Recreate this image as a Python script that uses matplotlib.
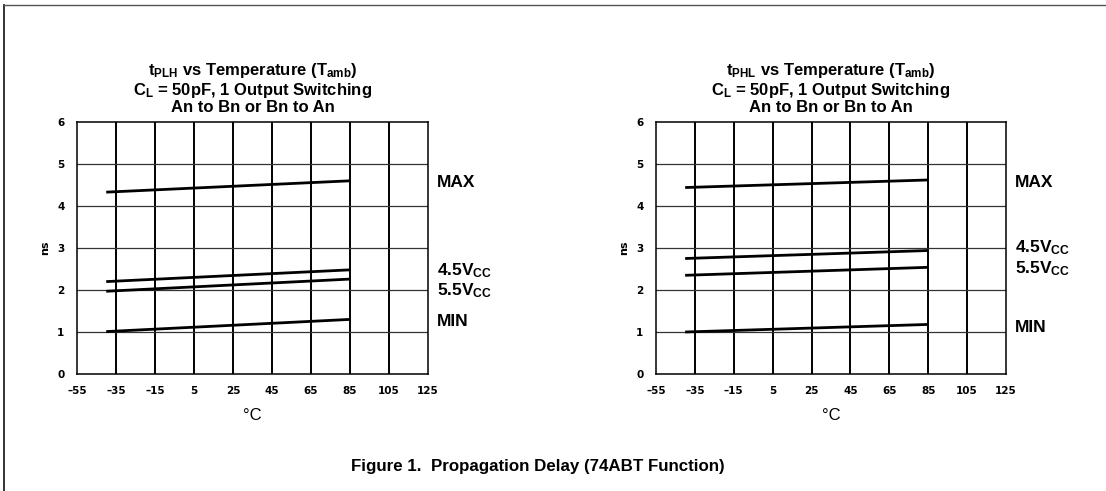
import matplotlib
matplotlib.use("Agg")
import matplotlib.pyplot as plt
from matplotlib.lines import Line2D

plt.rcParams["font.family"] = ["Liberation Sans", "DejaVu Sans"]
plt.rcParams["font.weight"] = "bold"
plt.rcParams["mathtext.fontset"] = "custom"
plt.rcParams["mathtext.rm"] = "Liberation Sans:bold"
plt.rcParams["mathtext.it"] = "Liberation Sans:bold"
plt.rcParams["mathtext.bf"] = "Liberation Sans:bold"

# --- data ---
temp = [-40, 85]
xticks = [-55, -35, -15, 5, 25, 45, 65, 85, 105, 125]
xtick_labels = ["\u201355", "\u201335", "\u201315", "5", "25", "45", "65", "85", "105", "125"]
yticks = [0, 1, 2, 3, 4, 5, 6]

plh_max = [4.33, 4.60]
plh_45v = [2.20, 2.48]
plh_55v = [1.97, 2.26]
plh_min = [1.01, 1.30]

phl_max = [4.44, 4.62]
phl_45v = [2.75, 2.94]
phl_55v = [2.35, 2.54]
phl_min = [1.00, 1.18]

curve_names = ["MAX", r"4.5V$_{CC}$", r"5.5V$_{CC}$", "MIN"]
plh_label_y = [4.55, 2.46, 1.99, 1.26]
phl_label_y = [4.55, 3.00, 2.52, 1.10]

titles = [
    ["t$_{PLH}$ vs Temperature (T$_{amb}$)", "C$_{L}$ = 50pF, 1 Output Switching", "An to Bn or Bn to An"],
    ["t$_{PHL}$ vs Temperature (T$_{amb}$)", "C$_{L}$ = 50pF, 1 Output Switching", "An to Bn or Bn to An"],
]
title_baselines = [1 - 75.5 / 491, 1 - 94.5 / 491, 1 - 112.5 / 491]

fig = plt.figure(figsize=(11.06, 4.91), dpi=100)

# frame around the figure (top + left only, like the scan)
fig.add_artist(Line2D([0.004, 0.004], [0, 0.99], color="#222222", lw=1.3, transform=fig.transFigure))
fig.add_artist(Line2D([0.004, 1.0], [0.99, 0.99], color="#555555", lw=1.0, transform=fig.transFigure))


def draw_panel(rect, title_lines, series, label_y):
    ax = fig.add_axes(rect)
    ax.set_xlim(-55, 125)
    ax.set_ylim(0, 6)
    ax.set_xticks(xticks)
    ax.set_xticklabels(xtick_labels)
    ax.set_yticks(yticks)
    ax.tick_params(length=0, labelsize=7.5, pad=9)
    for lab in ax.get_xticklabels() + ax.get_yticklabels():
        lab.set_fontweight("bold")
        lab.set_family("DejaVu Sans")
    for x in xticks[1:-1]:
        ax.axvline(x, color="black", lw=1.4, zorder=1)
    for y in yticks[1:-1]:
        ax.axhline(y, color="#333333", lw=0.9, zorder=1)
    for s in ax.spines.values():
        s.set_linewidth(1.1)
    for vals in series:
        ax.plot(temp, vals, color="black", lw=2.0, zorder=3, solid_capstyle="butt")
    for name, yv in zip(curve_names, label_y):
        ax.text(1.026, yv, name, transform=ax.get_yaxis_transform(), fontsize=12.5,
                fontweight="bold", va="center", ha="left")
    ax.set_xlabel("\u00b0C", fontsize=12, fontweight="normal", labelpad=8)
    ax.set_ylabel("ns", fontsize=8, fontweight="bold", labelpad=5, family="DejaVu Sans")
    xc = rect[0] + rect[2] / 2
    for line, yb in zip(title_lines, title_baselines):
        fig.text(xc, yb, line, ha="center", va="baseline", fontsize=12, fontweight="bold")
    return ax


draw_panel([0.0696, 0.2383, 0.3174, 0.5132], titles[0], [plh_max, plh_45v, plh_55v, plh_min], plh_label_y)
draw_panel([0.5931, 0.2383, 0.3165, 0.5132], titles[1], [phl_max, phl_45v, phl_55v, phl_min], phl_label_y)

fig.text(0.4865, 1 - 466 / 491, "Figure 1.  Propagation Delay (74ABT Function)", ha="center", va="center",
         fontsize=12.2, fontweight="bold")

fig.savefig("out.png", dpi=100)
